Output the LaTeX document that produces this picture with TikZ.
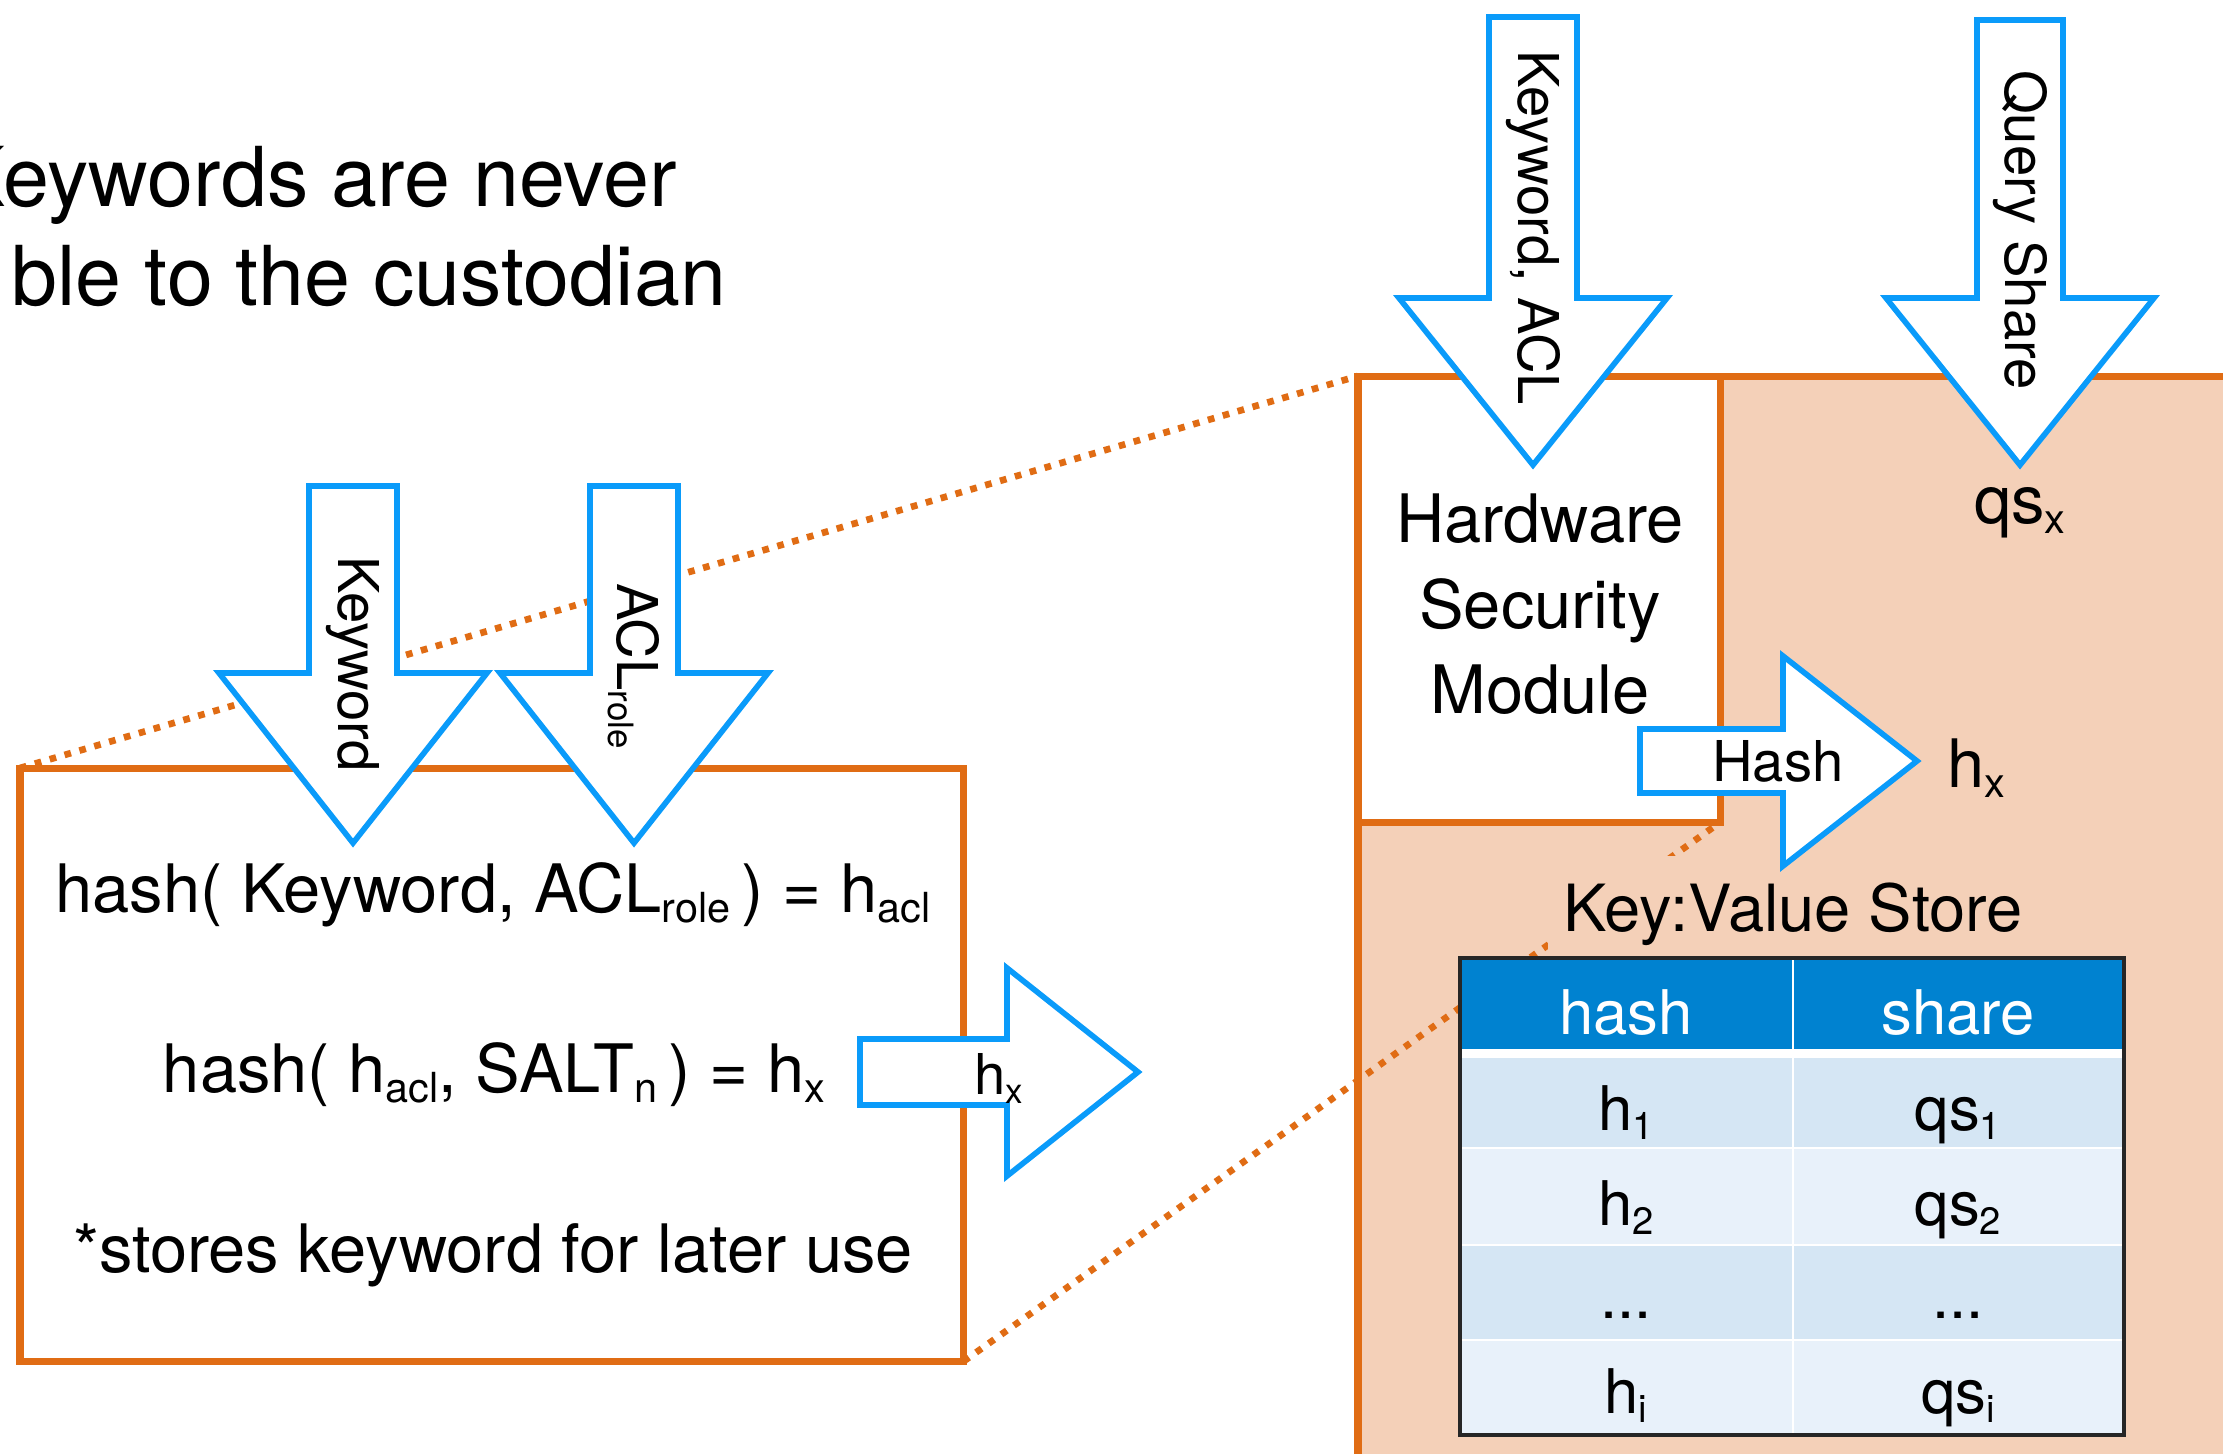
\documentclass[tikz,border=0pt]{standalone}
\usepackage{fontspec}
\setmainfont{TeX Gyre Heros}
\usepackage{graphicx}

\definecolor{frame}{RGB}{224,108,20}
\definecolor{peach}{RGB}{244,208,184}
\definecolor{arrowblue}{RGB}{10,155,250}
\definecolor{hdrblue}{RGB}{0,130,208}
\definecolor{rowA}{RGB}{213,230,244}
\definecolor{rowB}{RGB}{232,241,250}

% lowered, smaller index text (ACL_role, h_x, ...)
\newcommand\lowsub[1]{\raisebox{-0.16em}{\scalebox{0.62}{#1}}}

% hollow block arrow: start point, direction angle, shaft length,
% head length, shaft half-width, head half-width
\newcommand\blockarr[6]{%
  \draw[arrowshape, shift={#1}, rotate=#2]
    (0,-#5) -- (#3,-#5) -- (#3,-#6) -- ({#3+#4},0) -- (#3,#6) -- (#3,#5) -- (0,#5) -- cycle;}

\tikzset{
  obox/.style={draw=frame, line width=2pt, inner sep=0pt, outer sep=0pt, anchor=north west},
  arrowshape/.style={draw=arrowblue, fill=white, line width=1.6pt, line join=miter},
  dotline/.style={draw=frame, line width=1.9pt, dash pattern=on 1.9pt off 2.5pt},
  titletext/.style={font=\fontsize{23.5pt}{28pt}\selectfont, inner sep=0pt},
  bodytext/.style={font=\fontsize{19pt}{23pt}\selectfont, inner sep=0pt},
  labeltext/.style={font=\fontsize{16pt}{19pt}\selectfont, inner sep=0pt},
  celltext/.style={font=\fontsize{17.5pt}{21pt}\selectfont, inner sep=0pt, anchor=base},
}

\begin{document}
\begin{tikzpicture}[x=0.01cm, y=-0.01cm]
\useasboundingbox (0,0) rectangle (2223,1453);
\clip (0,0) rectangle (2223,1453);
\fill[white] (0,0) rectangle (2223,1453);

% heading
\node[titletext, anchor=base west] (head1) at (-50,206) {Keywords are never};
\node[titletext, anchor=base west] (head2) at (11,305) {ble to the custodian};

% custodian side: key-value store and the HSM
\node[obox, fill=peach, minimum width=9.3cm, minimum height=11.4cm] (store) at (1358,376) {};
\node[obox, fill=white, minimum width=3.62cm, minimum height=4.46cm] (hsm) at (1358,376) {};

% client-side computation box
\node[obox, fill=white, minimum width=9.43cm, minimum height=5.93cm] (calc) at (20,768) {};

% zoom guides from the client box to the custodian
\draw[dotline] (calc.north west) -- (store.north west);
\draw[dotline] (calc.south east) -- (hsm.south east);

% client-side formulas
\node[bodytext, anchor=base] (f1) at (493,912)
  {hash( Keyword, ACL\lowsub{role}\,) = h\lowsub{acl}};
\node[bodytext, anchor=base] (f2) at (494,1092)
  {hash( h\lowsub{acl}, SALT\lowsub{n}\,) = h\lowsub{x}};
\node[bodytext, anchor=base] (f3) at (493,1272)
  {*stores keyword for later use};

% HSM label
\node[bodytext, anchor=base] (hsm1) at (1540,542) {Hardware};
\node[bodytext, anchor=base] (hsm2) at (1540,628) {Security};
\node[bodytext, anchor=base] (hsm3) at (1540,713) {Module};

% store caption, on a peach patch
\node[font=\fontsize{18.5pt}{22pt}\selectfont, fill=peach, inner xsep=0.15cm, inner ysep=0.26cm,
      anchor=base] (kvs) at (1793,931) {Key:Value Store};

% key-value table
\fill[hdrblue] (1460,958) rectangle (2124,1049);
\fill[white]   (1460,1049) rectangle (2124,1058);
\fill[rowA] (1460,1058) rectangle (2124,1148);
\fill[rowB] (1460,1148) rectangle (2124,1245);
\fill[rowA] (1460,1245) rectangle (2124,1340);
\fill[rowB] (1460,1340) rectangle (2124,1435);
\draw[white, line width=0.6pt] (1460,1148) -- (2124,1148)
                               (1460,1245) -- (2124,1245)
                               (1460,1340) -- (2124,1340)
                               (1793,958) -- (1793,1435);
\draw[black!85, line width=0.9pt] (1460,958) rectangle (2124,1435);

\node[celltext, text=white] (th1) at (1626,1034) {hash};
\node[celltext, text=white] (th2) at (1958,1034) {share};
\node[celltext] (c11) at (1626,1130) {h\lowsub{1}};
\node[celltext] (c12) at (1958,1130) {qs\lowsub{1}};
\node[celltext] (c21) at (1626,1225) {h\lowsub{2}};
\node[celltext] (c22) at (1958,1225) {qs\lowsub{2}};
\node[celltext] (c31) at (1626,1318) {...};
\node[celltext] (c32) at (1958,1318) {...};
\node[celltext] (c41) at (1626,1413) {h\lowsub{i}};
\node[celltext] (c42) at (1958,1413) {qs\lowsub{i}};

% values produced inside the custodian
\node[bodytext, anchor=base] (qsx) at (2020,523) {qs\lowsub{x}};
\node[bodytext, anchor=base west] (hxout) at (1947,787) {h\lowsub{x}};

% block arrows
\blockarr{(353,486)}{-90}{187}{170}{44}{134}
\blockarr{(634,486)}{-90}{187}{170}{44}{134}
\blockarr{(1533,17)}{-90}{281}{167}{44}{134}
\blockarr{(2020,20)}{-90}{278}{167}{43}{134}
\blockarr{(860,1072)}{0}{147}{131}{33}{104}
\blockarr{(1640,761)}{0}{143}{134}{32}{105}

% arrow captions
\node[labeltext, rotate=-90] (lkw) at (353,664) {Keyword};
\node[labeltext, rotate=-90] (lacl) at (634,666) {ACL\lowsub{role}};
\node[labeltext, rotate=-90] (lkwacl) at (1533,228) {Keyword, ACL};
\node[labeltext, rotate=-90] (lqs) at (2020,230) {Query Share};
\node[labeltext] (lhx) at (999,1078) {h\lowsub{x}};
\node[labeltext] (lhash) at (1778,761) {Hash};
\end{tikzpicture}
\end{document}
